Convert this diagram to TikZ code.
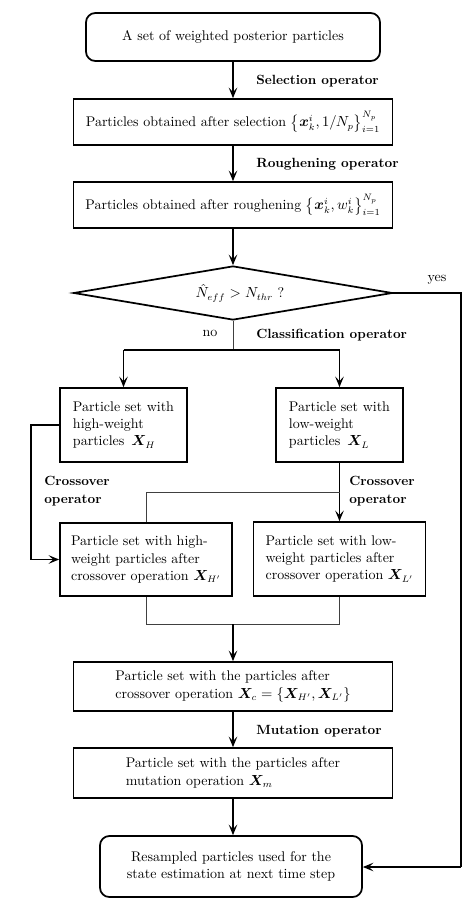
\documentclass[tikz,border=0pt]{standalone}
\usepackage{amsmath,bm}
\usetikzlibrary{shapes.geometric,arrows.meta}
\tikzset{
  wh/.style 2 args={minimum width=#1*0.75pt, minimum height=#2*0.75pt},
  box/.style={draw, line width=1.3pt, align=left, inner sep=0pt},
  rbox/.style={box, rounded corners=7pt},
  lab/.style={font=\fontsize{10}{13.5}\selectfont\bfseries, anchor=west, align=left, inner sep=0pt},
  arr/.style={line width=1.3pt, -{Stealth[length=8pt,width=6.5pt,inset=3.5pt]}},
  plain/.style={line width=1.3pt},
  thinline/.style={line width=0.6pt, draw=black!75},
}
\begin{document}
\begin{tikzpicture}[x=0.75pt,y=-0.75pt, font=\fontsize{10.5}{13}\selectfont]
\useasboundingbox (0,0) rectangle (474,907);
% nodes
\node[rbox, wh={294}{48}] (top) at (233,37) {A set of weighted posterior particles};
\node[box, wh={319}{46}] (sel) at (233,122) {Particles obtained after selection $\big\{\bm{x}_k^i, 1/N_p\big\}_{i=1}^{N_p}$};
\node[box, wh={319}{46}] (rough) at (233,205) {Particles obtained after roughening $\big\{\bm{x}_k^i, w_k^i\big\}_{i=1}^{N_p}$};
\node[diamond, draw, line width=1.3pt, aspect=6, inner sep=0pt, wh={319}{54}] (dec) at (233,293) {};
\node (dect) at (240,293) {$\hat{N}_{eff} > N_{thr}$ ?};
\node[box, wh={127}{74}] (hb) at (123.5,425) {Particle set with\\high-weight\\particles\, $\bm{X}_{H}$};
\node[box, wh={127}{74}] (lb) at (339.5,425) {Particle set with\\low-weight\\particles\, $\bm{X}_{L}$};
\node[box, wh={172}{73}] (hp) at (146,559.5) {Particle set with high-\\weight particles after\\crossover operation $\bm{X}_{H'}$};
\node[box, wh={172}{74}] (lp) at (339.5,559) {Particle set with low-\\weight particles after\\crossover operation $\bm{X}_{L'}$};
\node[box, wh={319}{49}] (xc) at (233,686.5) {Particle set with the particles after\\crossover operation $\bm{X}_c = \{\bm{X}_{H'}, \bm{X}_{L'}\}$};
\node[box, wh={319}{50}] (xm) at (233,773) {Particle set with the particles after\\mutation operation $\bm{X}_m$};
\node[rbox, align=center, wh={262}{61}] (res) at (231,866.5) {Resampled particles used for the\\state estimation at next time step};
% labels
\node[lab] (l1) at (256,81) {Selection operator};
\node[lab] (l2) at (256,164) {Roughening operator};
\node[lab] (l3) at (256,335) {Classification operator};
\node (lno) at (210,333) {no};
\node (lyes) at (437,280) {yes};
\node[lab] (l4) at (44,491) {Crossover\\operator};
\node[lab] (l5) at (349,491) {Crossover\\operator};
\node[lab] (l6) at (256,731) {Mutation operator};
% coordinates
\coordinate (split) at (233,350);
\coordinate (splitL) at (123.5,350);
\coordinate (splitR) at (339.5,350);
\coordinate (yes1) at (461,293);
\coordinate (yes2) at (461,867);
\coordinate (hl1) at (31,425);
\coordinate (hl2) at (31,559.5);
\coordinate (cj1) at (146,492);
\coordinate (cj2) at (339.5,492);
\coordinate (m1) at (146,624);
\coordinate (m2) at (339.5,624);
\coordinate (m3) at (233,624);
% connectors
\draw[arr] (top.south) -- (sel.north);
\draw[arr] (sel.south) -- (rough.north);
\draw[arr] (rough.south) -- (dec.north);
\draw[thinline] (dec.south) -- (split);
\draw[plain] (splitL) -- (splitR);
\draw[arr] (splitL) -- (hb.north);
\draw[arr] (splitR) -- (lb.north);
\draw[plain] (dec.east) -- (yes1) -- (yes2);
\draw[arr] (yes2) -- (yes2 -| res.east);
\draw[plain] (hb.west) -- (hl1) -- (hl2);
\draw[arr] (hl2) -- (hp.west);
\draw[arr] (lb.south) -- (lp.north);
\draw[thinline] (hp.north) -- (cj1) -- (cj2);
\draw[thinline] (hp.south) -- (m1) -- (m2) -- (lp.south);
\draw[arr] (m3) -- (xc.north);
\draw[arr] (xc.south) -- (xm.north);
\draw[arr] (xm.south) -- (xm.south |- res.north);
\end{tikzpicture}
\end{document}
